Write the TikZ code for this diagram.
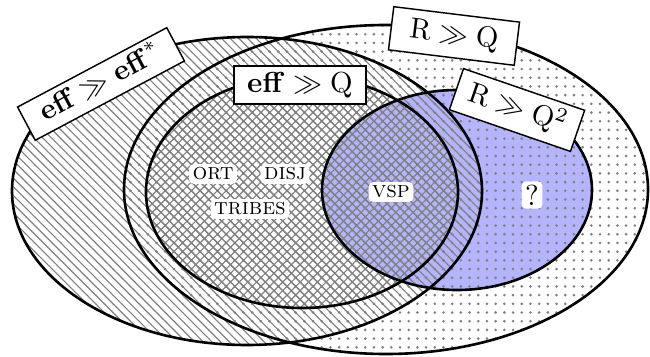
\documentclass[tikz,border=0pt]{standalone}
\usetikzlibrary{patterns}
\definecolor{vspblue}{RGB}{180,180,255}
\tikzset{
  setline/.style={line width=0.9pt},
  biglabel/.style={draw, fill=white, line width=0.5pt, inner xsep=4.5pt, inner ysep=2pt, text height=7pt, text depth=2pt},
  smalllabel/.style={fill=white, rounded corners=1.5pt, inner sep=1.2pt, font=\footnotesize}
}
\begin{document}
\begin{tikzpicture}[x=0.345pt,y=-0.345pt]
\useasboundingbox (0,0) rectangle (650,356);
% centres
\coordinate (cA) at (247,191);
\coordinate (cB) at (386,189.5);
\coordinate (cC) at (302,192);
\coordinate (cD) at (457,190);
% blue fill
\fill[vspblue] (cD) ellipse [x radius=135, y radius=100];
% patterns
\fill[pattern=dots, pattern color=gray] (cB) ellipse [x radius=262, y radius=164.5];
\fill[pattern=north west lines, pattern color=gray] (cA) ellipse [x radius=235, y radius=154];
\fill[pattern=crosshatch, pattern color=gray] (cC) ellipse [x radius=156, y radius=116];
% outlines
\draw[setline] (cB) ellipse [x radius=262, y radius=164.5];
\draw[setline] (cA) ellipse [x radius=235, y radius=154];
\draw[setline] (cC) ellipse [x radius=156, y radius=116];
\draw[setline] (cD) ellipse [x radius=135, y radius=100];
% labels
\node[biglabel, rotate=28, inner xsep=6pt] (lA) at (101,84) {$\mathbf{eff}\gg\mathbf{eff}^*$};
\node[biglabel] (lC) at (300,85) {$\mathbf{eff}\gg\mathrm{Q}$};
\node[biglabel, rotate=-7, inner xsep=6.5pt, inner ysep=3pt] (lB) at (454,36) {$\mathrm{R}\gg\mathrm{Q}$};
\node[biglabel, rotate=-19, inner ysep=3pt] (lD) at (517,110) {$\mathrm{R}\gg\mathrm{Q}^2$};
\node[smalllabel] (ort) at (213,174) {\textsc{ort}};
\node[smalllabel] (disj) at (285,174) {\textsc{disj}};
\node[smalllabel] (tribes) at (250,209) {\textsc{tribes}};
\node[smalllabel] (vsp) at (391,192) {\textsc{vsp}};
\node[smalllabel, font=\normalsize] (q) at (532,195) {?};
\end{tikzpicture}
\end{document}
